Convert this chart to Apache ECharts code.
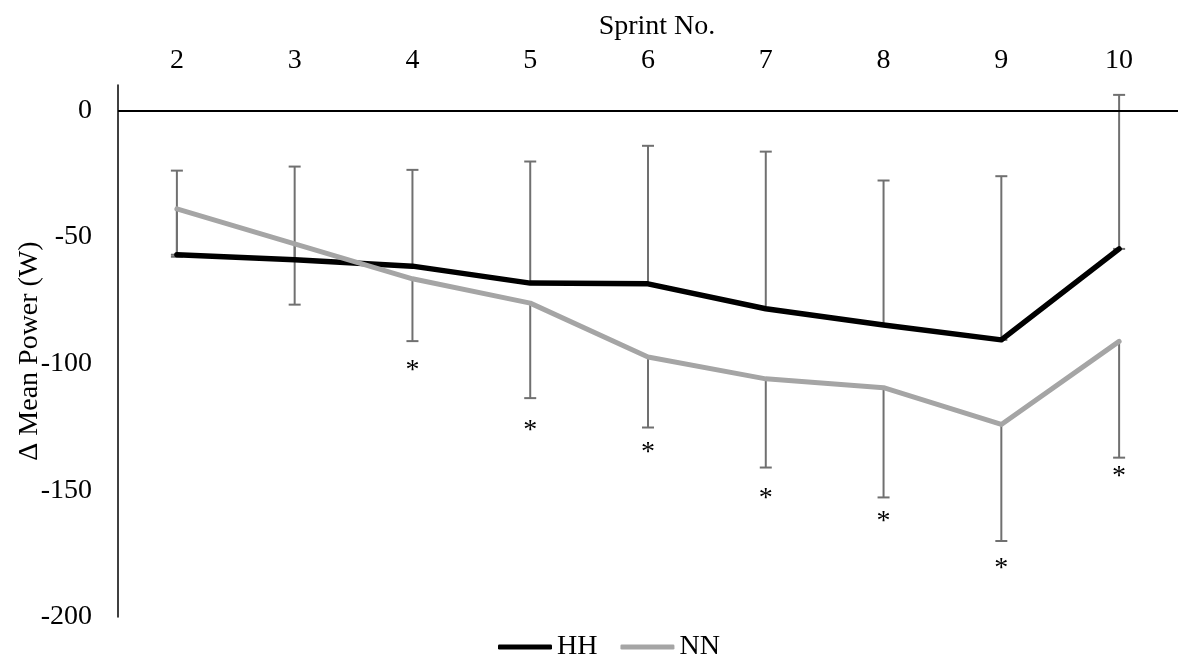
<!DOCTYPE html>
<html>
<head>
<meta charset="utf-8">
<script src="https://cdn.jsdelivr.net/npm/echarts@6/dist/echarts.min.js"></script>
<style>
html,body{margin:0;padding:0;background:#fff;}
#chart{width:1178px;height:662px;}
</style>
</head>
<body>
<div id="chart"></div>
<script>
const sprints = ['2','3','4','5','6','7','8','9','10'];
const hhMean = [-57.0, -59.0, -61.5, -68.2, -68.5, -78.3, -84.7, -90.6, -54.7];
const hhErrUp = [33.2, 36.8, 38.0, 48.0, 54.5, 62.0, 57.0, 64.6, 60.8];
const nnMean = [-38.9, -52.7, -66.5, -76.1, -97.4, -106.0, -109.5, -124.0, -91.2];
const nnErrDown = [18.9, 24.0, 24.6, 37.5, 27.8, 35.0, 43.3, 46.0, 45.9];
const starPos = [null, null, -101.1, -125.0, -133.6, -151.7, -160.8, -179.2, -143.0];
const yTicks = {min: -200, max: 10, interval: 50};

const FONT = '"Liberation Serif", "Times New Roman", serif';

const hhErrData = hhMean.map((m, i) => [i, m, m + hhErrUp[i]]);
const nnErrData = nnMean.map((m, i) => [i, m - nnErrDown[i], m]);
const starData = [];
starPos.forEach((v, i) => { if (v !== null) starData.push([i, v]); });

function errRender(capTop, capBottom) {
  return function (params, api) {
    const i = api.value(0), lo = api.value(1), hi = api.value(2);
    const t = api.coord([i, hi]);
    const b = api.coord([i, lo]);
    const hw = 6;
    const style = {stroke: '#707070', lineWidth: 2};
    const children = [{type: 'line', shape: {x1: t[0], y1: t[1], x2: b[0], y2: b[1]}, style: style}];
    if (capTop) children.push({type: 'line', shape: {x1: t[0] - hw, y1: t[1], x2: t[0] + hw, y2: t[1]}, style: style});
    if (capBottom) children.push({type: 'line', shape: {x1: b[0] - hw, y1: b[1], x2: b[0] + hw, y2: b[1]}, style: style});
    return {type: 'group', children: children};
  };
}

const chart = echarts.init(document.getElementById('chart'), null, {renderer: 'canvas'});
chart.setOption({
  animation: false,
  backgroundColor: '#ffffff',
  textStyle: {fontFamily: FONT},
  grid: {left: 118, right: 0, top: 85, bottom: 45, containLabel: false, outerBoundsMode: 'none'},
  legend: {
    left: 493, top: 628,
    itemWidth: 54, itemHeight: 5, itemGap: 23,
    icon: 'roundRect',
    textStyle: {fontFamily: FONT, fontSize: 28, color: '#000'},
    data: ['HH', 'NN']
  },
  xAxis: {
    type: 'category',
    data: sprints,
    position: 'top',
    boundaryGap: true,
    axisLine: {show: false},
    axisTick: {show: false},
    splitLine: {show: false},
    axisLabel: {fontFamily: FONT, fontSize: 28, color: '#000', margin: 10, interval: 0},
    name: 'Sprint No.',
    nameLocation: 'middle',
    nameGap: 44,
    nameMoveOverlap: false,
    nameTextStyle: {fontFamily: FONT, fontSize: 28, color: '#000', padding: [0, 0, 0, 18]}
  },
  yAxis: {
    type: 'value',
    min: yTicks.min, max: yTicks.max, interval: yTicks.interval,
    axisLine: {show: true, onZero: false, lineStyle: {color: '#000', width: 1.5}},
    axisTick: {show: false},
    splitLine: {show: false},
    axisLabel: {fontFamily: FONT, fontSize: 28, color: '#000', margin: 26, showMaxLabel: false},
    name: 'Δ Mean Power (W)',
    nameLocation: 'middle',
    nameGap: 74,
    nameMoveOverlap: false,
    nameTextStyle: {fontFamily: FONT, fontSize: 28, color: '#000'}
  },
  series: [
    {
      type: 'custom', name: 'hhErr', z: 1,
      renderItem: errRender(true, true),
      data: hhErrData,
      encode: {x: 0, y: [1, 2]},
      silent: true
    },
    {
      type: 'custom', name: 'nnErr', z: 1,
      renderItem: errRender(false, true),
      data: nnErrData,
      encode: {x: 0, y: [1, 2]},
      silent: true
    },
    {
      type: 'line', name: 'HH', z: 3,
      data: hhMean,
      symbol: 'none',
      color: '#000000',
      lineStyle: {color: '#000000', width: 5.5, cap: 'round', join: 'round'},
      markLine: {
        silent: true, symbol: 'none', label: {show: false},
        lineStyle: {color: '#000', width: 2, type: 'solid'},
        data: [{yAxis: 0}]
      }
    },
    {
      type: 'line', name: 'NN', z: 4,
      data: nnMean,
      symbol: 'none',
      color: '#a5a5a5',
      lineStyle: {color: '#a5a5a5', width: 5, cap: 'round', join: 'round'}
    },
    {
      type: 'custom', name: 'stars', z: 5,
      data: starData,
      encode: {x: 0, y: 1},
      silent: true,
      renderItem: function (params, api) {
        const p = api.coord([api.value(0), api.value(1)]);
        return {
          type: 'text',
          x: p[0], y: p[1] + 4,
          style: {text: '*', fontSize: 28, fontFamily: FONT, fill: '#000', align: 'center', verticalAlign: 'middle'}
        };
      }
    }
  ]
});
</script>
</body>
</html>
